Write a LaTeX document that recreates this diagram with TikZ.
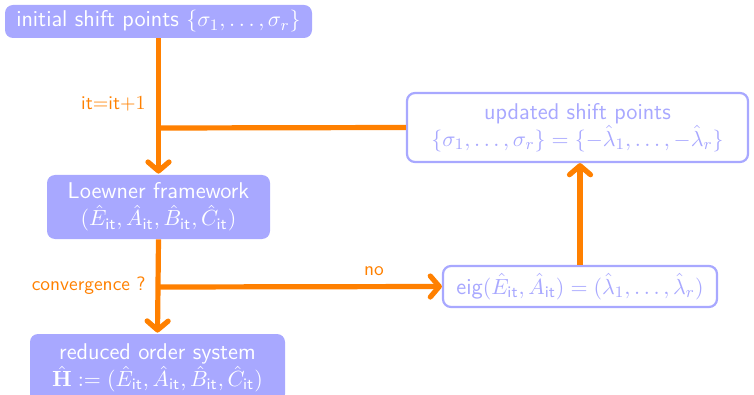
\documentclass[tikz,border=0pt]{standalone}
\usepackage{amsmath}
\usetikzlibrary{arrows.meta}
\renewcommand{\familydefault}{\sfdefault}
\definecolor{boxblue}{RGB}{168,168,255}
\definecolor{flow}{RGB}{255,128,0}
\newcommand{\itx}{\text{it}}
\begin{document}
\begin{tikzpicture}[x=0.5pt,y=-0.5pt,
  boxfont/.style={font=\fontsize{11.4}{13.5}\selectfont},
  solidbox/.style={boxfont,fill=boxblue,text=white,rounded corners=4pt,align=center,inner sep=0pt},
  openbox/.style={boxfont,draw=boxblue,line width=1.1pt,fill=white,text=boxblue,rounded corners=4pt,align=center,inner sep=0pt},
  flowline/.style={draw=flow,line width=2.6pt},
  flowarrow/.style={flowline,-{Straight Barb[length=4.5pt,width=10.5pt,line width=2.6pt,round]}},
  flowlabel/.style={text=flow,font=\fontsize{9.7}{11}\selectfont,inner sep=1pt}]
  \useasboundingbox (0,0) rectangle (754,395);

  \node[solidbox,minimum width=153.5pt,minimum height=16.5pt] (init) at (158.5,21.5)
    {initial shift points $\{\sigma_1,\ldots,\sigma_r\}$};
  \node[solidbox,minimum width=111.5pt,minimum height=32pt] (loew) at (158.5,207)
    {Loewner framework\\ $(\hat{E}_{\itx},\hat{A}_{\itx},\hat{B}_{\itx},\hat{C}_{\itx})$};
  \node[solidbox,minimum width=127.5pt,minimum height=34pt] (red) at (157.5,368)
    {reduced order system\\ $\hat{\mathbf{H}}:=(\hat{E}_{\itx},\hat{A}_{\itx},\hat{B}_{\itx},\hat{C}_{\itx})$};
  \node[openbox,minimum width=170.5pt,minimum height=34.5pt] (upd) at (577.5,127.5)
    {updated shift points\\ $\{\sigma_1,\ldots,\sigma_r\}=\{-\hat{\lambda}_1,\ldots,-\hat{\lambda}_r\}$};
  \node[openbox,minimum width=137pt,minimum height=20.5pt] (eig) at (580,286.5)
    {eig$(\hat{E}_{\itx},\hat{A}_{\itx})=(\hat{\lambda}_1,\ldots,\hat{\lambda}_r)$};

  \coordinate (j1) at (158.5,128);
  \coordinate (j2) at (158.5,287);

  \draw[flowarrow] (init.south) -- ([yshift=0.5pt]loew.north);
  \draw[flowline] (j1) -- (upd.west);
  \draw[flowarrow] (loew.south) -- ([yshift=0.5pt]red.north);
  \draw[flowarrow] (j2) -- (eig.west);
  \draw[flowarrow] (eig.north) -- (eig.north |- upd.south);

  \node[flowlabel,anchor=east] (lit) at (148,104) {$\itx{=}\itx{+}1$};
  \node[flowlabel,anchor=east] (lconv) at (148,286) {convergence ?};
  \node[flowlabel] (lno) at (374,271) {no};
\end{tikzpicture}
\end{document}
